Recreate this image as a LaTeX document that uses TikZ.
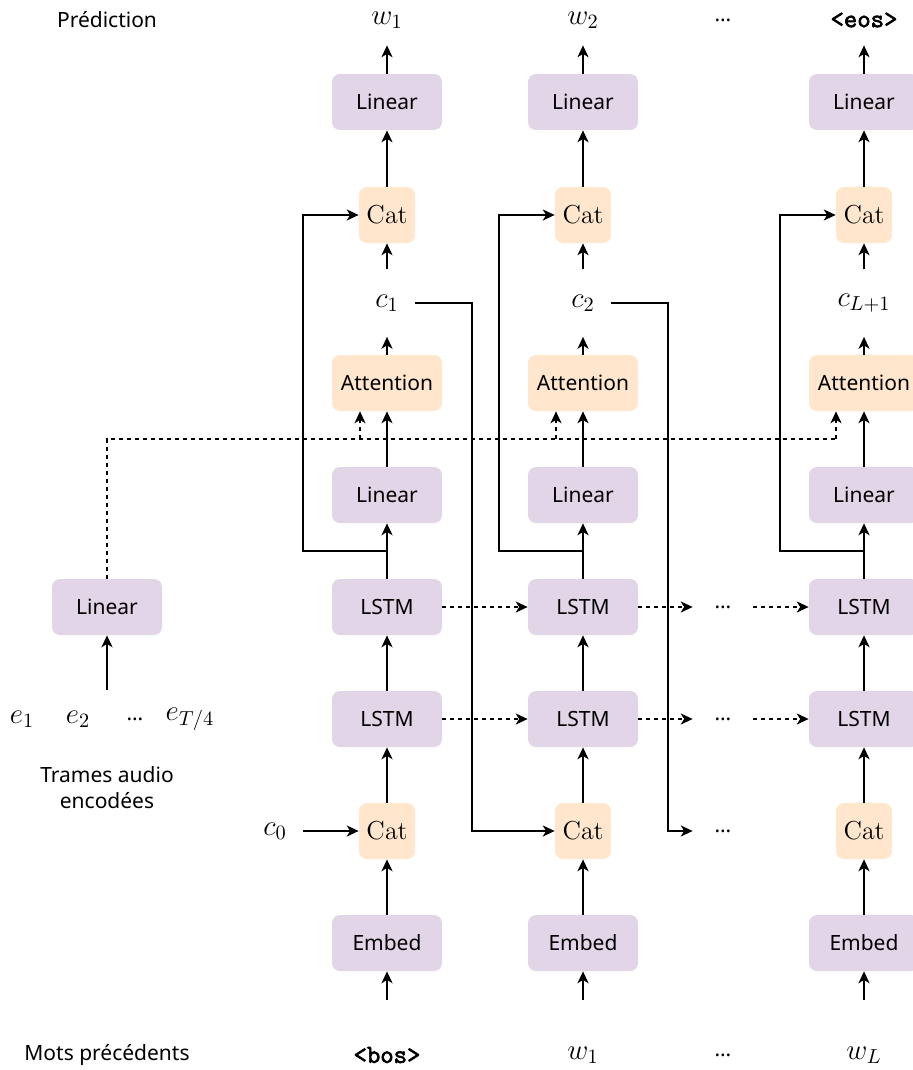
\RequirePackage{fix-cm}
\documentclass[tikz,border=0pt]{standalone}
\usepackage[no-math]{fontspec}
\setmainfont{Noto Sans}
\newfontfamily\tokfont{Latin Modern Mono}[FakeBold=2.5]
\usetikzlibrary{arrows.meta,positioning,calc}

\definecolor{lilac}{HTML}{E1D5E7}
\definecolor{peach}{HTML}{FFE6CC}

\begin{document}
\begin{tikzpicture}[
    x=0.5pt, y=-0.5pt,
    >={Stealth[length=6pt, width=5.6pt, inset=1.8pt]},
    box/.style={rectangle, rounded corners=4pt, minimum height=28pt, align=center, inner sep=0pt, font=\fontsize{10.5}{12}\selectfont},
    layer/.style={box, fill=lilac, minimum width=55pt},
    attn/.style={box, fill=peach, minimum width=55pt},
    cat/.style={box, fill=peach, minimum width=28pt, font=\fontsize{13}{16}\selectfont},
    word/.style={minimum height=25pt, inner sep=0pt, font=\fontsize{14.5}{17}\selectfont},
    token/.style={word, font=\fontsize{13}{15}\tokfont},
    ctx/.style={minimum height=33.5pt, inner xsep=8pt, inner ysep=0pt, font=\fontsize{14.5}{17}\selectfont},
    dots/.style={minimum width=30pt, minimum height=25pt, inner sep=0pt, font=\fontsize{10.5}{12}\selectfont},
    label/.style={align=center, font=\fontsize{10.5}{13}\selectfont},
    arrow/.style={->, line width=0.65pt},
    dashedarrow/.style={->, line width=0.65pt, dash pattern=on 2pt off 2pt},
    dashedline/.style={line width=0.65pt, dash pattern=on 2pt off 2pt}
]
\useasboundingbox (0,0) rectangle (912,1070);

% Row labels (left)
\node[label] (pred) at (107,20) {Prédiction};
\node[label] (prev) at (107,1055) {Mots précédents};

% Encoder side
\node[layer] (enclin) at (107,607) {Linear};
\node[word] (e1) at (22,719) {$e_1$};
\node[word] (e2) at (78,719) {$e_2$};
\node[dots] (edots) at (135,719) {…};
\node[word] (eT) at (190,719) {$e_{T/4}$};
\node[label] (frames) at (107,788) {Trames audio\\encodées};
\coordinate (encin) at (107,690);
\draw[arrow] (encin) -- (enclin);

% Column 1
\node[word] (out1) at (387,20) {$w_1$};
\node[layer] (lintop1) at (387,102) {Linear};
\node[cat] (cattop1) at (387,215) {$\mathrm{Cat}$};
\node[ctx] (ctx1) at (387,303) {$c_1$};
\node[attn] (att1) at (387,383) {Attention};
\node[layer] (linmid1) at (387,495) {Linear};
\node[layer] (lstma1) at (387,607) {LSTM};
\node[layer] (lstmb1) at (387,719) {LSTM};
\node[cat] (catbot1) at (387,831) {$\mathrm{Cat}$};
\node[layer] (emb1) at (387,943) {Embed};
\node[token] (in1) at (387,1055) {<bos>};
\node[ctx] (ctx0) at (275,831) {$c_0$};

% Column 2
\node[word] (out2) at (583,20) {$w_2$};
\node[layer] (lintop2) at (583,102) {Linear};
\node[cat] (cattop2) at (583,215) {$\mathrm{Cat}$};
\node[ctx] (ctx2) at (583,303) {$c_2$};
\node[attn] (att2) at (583,383) {Attention};
\node[layer] (linmid2) at (583,495) {Linear};
\node[layer] (lstma2) at (583,607) {LSTM};
\node[layer] (lstmb2) at (583,719) {LSTM};
\node[cat] (catbot2) at (583,831) {$\mathrm{Cat}$};
\node[layer] (emb2) at (583,943) {Embed};
\node[word] (in2) at (583,1055) {$w_1$};

% Ellipsis column
\node[dots] (outdots) at (723,20) {…};
\node[dots] (dotsa) at (723,607) {…};
\node[dots] (dotsb) at (723,719) {…};
\node[dots] (dotsc) at (723,831) {…};
\node[dots] (indots) at (723,1055) {…};

% Column 3 (last step)
\node[token] (out3) at (864,20) {<eos>};
\node[layer] (lintop3) at (864,102) {Linear};
\node[cat] (cattop3) at (864,215) {$\mathrm{Cat}$};
\node[ctx] (ctx3) at (864,303) {$c_{L+1}$};
\node[attn] (att3) at (864,383) {Attention};
\node[layer] (linmid3) at (864,495) {Linear};
\node[layer] (lstma3) at (864,607) {LSTM};
\node[layer] (lstmb3) at (864,719) {LSTM};
\node[cat] (catbot3) at (864,831) {$\mathrm{Cat}$};
\node[layer] (emb3) at (864,943) {Embed};
\node[word] (in3) at (864,1055) {$w_L$};

% Vertical flow in each column
\draw[arrow, shorten <=15pt] (in1) -- (emb1);
\draw[arrow] (emb1) -- (catbot1);
\draw[arrow] (catbot1) -- (lstmb1);
\draw[arrow] (lstmb1) -- (lstma1);
\draw[arrow] (lstma1) -- (linmid1);
\draw[arrow] (linmid1) -- (att1);
\draw[arrow] (att1) -- (ctx1);
\draw[arrow] (ctx1) -- (cattop1);
\draw[arrow] (cattop1) -- (lintop1);
\draw[arrow] (lintop1) -- (out1);

\draw[arrow, shorten <=15pt] (in2) -- (emb2);
\draw[arrow] (emb2) -- (catbot2);
\draw[arrow] (catbot2) -- (lstmb2);
\draw[arrow] (lstmb2) -- (lstma2);
\draw[arrow] (lstma2) -- (linmid2);
\draw[arrow] (linmid2) -- (att2);
\draw[arrow] (att2) -- (ctx2);
\draw[arrow] (ctx2) -- (cattop2);
\draw[arrow] (cattop2) -- (lintop2);
\draw[arrow] (lintop2) -- (out2);

\draw[arrow, shorten <=15pt] (in3) -- (emb3);
\draw[arrow] (emb3) -- (catbot3);
\draw[arrow] (catbot3) -- (lstmb3);
\draw[arrow] (lstmb3) -- (lstma3);
\draw[arrow] (lstma3) -- (linmid3);
\draw[arrow] (linmid3) -- (att3);
\draw[arrow] (att3) -- (ctx3);
\draw[arrow] (ctx3) -- (cattop3);
\draw[arrow] (cattop3) -- (lintop3);
\draw[arrow] (lintop3) -- (out3);

% Skip connections LSTM -> top Cat
\coordinate (split1) at (387,551);
\coordinate (skip1) at (303,551);
\draw[arrow] (split1) -- (skip1) |- (cattop1.west);
\coordinate (split2) at (583,551);
\coordinate (skip2) at (499,551);
\draw[arrow] (split2) -- (skip2) |- (cattop2.west);
\coordinate (split3) at (864,551);
\coordinate (skip3) at (780,551);
\draw[arrow] (split3) -- (skip3) |- (cattop3.west);

% Context vector fed to next step
\draw[arrow] (ctx0) -- (catbot1);
\coordinate (turn1) at (472,831);
\draw[arrow] (ctx1.east) -| (turn1) -- (catbot2);
\coordinate (turn2) at (668,831);
\draw[arrow] (ctx2.east) -| (turn2) -- (dotsc);

% Recurrent state (dashed)
\draw[dashedarrow] (lstma1) -- (lstma2);
\draw[dashedarrow] (lstma2) -- (dotsa);
\draw[dashedarrow] (dotsa) -- (lstma3);
\draw[dashedarrow] (lstmb1) -- (lstmb2);
\draw[dashedarrow] (lstmb2) -- (dotsb);
\draw[dashedarrow] (dotsb) -- (lstmb3);

% Encoder keys to every attention
\coordinate (kv1) at (360,439);
\coordinate (kv2) at (556,439);
\coordinate (kv3) at (836,439);
\draw[dashedline] (enclin) |- (kv3);
\draw[dashedarrow] (kv1) -- (att1.south -| kv1);
\draw[dashedarrow] (kv2) -- (att2.south -| kv2);
\draw[dashedarrow] (kv3) -- (att3.south -| kv3);

\end{tikzpicture}
\end{document}
